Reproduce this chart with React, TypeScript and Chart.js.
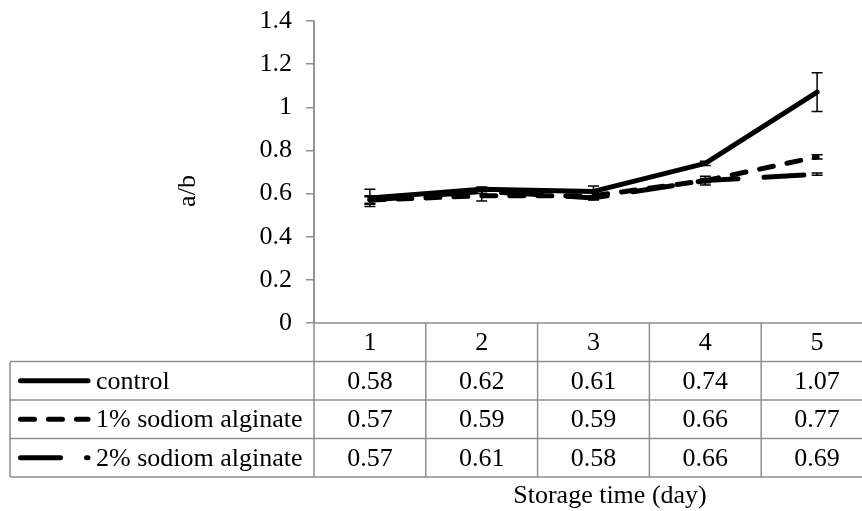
import React, { useEffect, useRef } from 'react';
import { Chart, registerables } from 'chart.js';

Chart.register(...registerables);

// ---- data ----
const days = ['1', '2', '3', '4', '5'];
const seriesNames = ['control', '1% sodiom alginate', '2% sodiom alginate'];
const controlValues = [0.58, 0.62, 0.61, 0.74, 1.07];
const alginate1Values = [0.57, 0.59, 0.59, 0.66, 0.77];
const alginate2Values = [0.57, 0.61, 0.58, 0.66, 0.69];
const controlErrors = [0.04, 0.01, 0.025, 0.01, 0.09];
const alginate1Errors = [0.02, 0.025, 0.015, 0.02, 0.01];
const alginate2Errors = [0.015, 0.01, 0.01, 0.01, 0.005];
const yTitle = 'a/b';
const xTitle = 'Storage time (day)';

const FONT = '"Liberation Serif", "Times New Roman", serif';
const FONT_SIZE = 26;
const GRID = '#8f8f8f';
const ROW_H = 38.5;
const TABLE_LEFT = 10;

const errorBarPlugin = {
  id: 'errorBars',
  afterDatasetsDraw(chart: any) {
    const { ctx } = chart;
    const ys = chart.scales.y;
    ctx.save();
    ctx.strokeStyle = '#000';
    ctx.lineWidth = 1.5;
    ctx.setLineDash([]);
    chart.data.datasets.forEach((ds: any, di: number) => {
      const meta = chart.getDatasetMeta(di);
      ds.data.forEach((v: number, i: number) => {
        const e = ds.errors[i];
        const pt = meta.data[i];
        if (!pt) return;
        const x = pt.x;
        const y1 = ys.getPixelForValue(v + e);
        const y2 = ys.getPixelForValue(v - e);
        ctx.beginPath();
        ctx.moveTo(x, y1);
        ctx.lineTo(x, y2);
        ctx.moveTo(x - 5.5, y1);
        ctx.lineTo(x + 5.5, y1);
        ctx.moveTo(x - 5.5, y2);
        ctx.lineTo(x + 5.5, y2);
        ctx.stroke();
      });
    });
    ctx.restore();
  },
};

const tablePlugin = {
  id: 'dataTable',
  afterDraw(chart: any) {
    const { ctx, chartArea } = chart;
    const xs = chart.scales.x;
    const { left, right, top, bottom } = chartArea;
    const centers = days.map((_, i) => xs.getPixelForValue(i));
    const half = (centers[1] - centers[0]) / 2;
    const rowTops = [0, 1, 2, 3].map((r) => bottom + r * ROW_H);
    const tableBottom = bottom + 4 * ROW_H;

    ctx.save();
    ctx.strokeStyle = GRID;
    ctx.lineWidth = 1.5;
    ctx.setLineDash([]);
    ctx.beginPath();
    // x axis line / header top
    ctx.moveTo(left, bottom);
    ctx.lineTo(right, bottom);
    for (let r = 1; r < 4; r++) {
      ctx.moveTo(TABLE_LEFT, rowTops[r]);
      ctx.lineTo(right, rowTops[r]);
    }
    ctx.moveTo(TABLE_LEFT, tableBottom);
    ctx.lineTo(right, tableBottom);
    // verticals
    ctx.moveTo(TABLE_LEFT, rowTops[1]);
    ctx.lineTo(TABLE_LEFT, tableBottom);
    ctx.moveTo(left, top);
    ctx.lineTo(left, tableBottom);
    centers.forEach((c) => {
      ctx.moveTo(c + half, bottom);
      ctx.lineTo(c + half, tableBottom);
    });
    ctx.stroke();

    // texts
    ctx.fillStyle = '#000';
    ctx.font = `${FONT_SIZE}px ${FONT}`;
    ctx.textAlign = 'center';
    ctx.textBaseline = 'middle';
    days.forEach((d, i) => ctx.fillText(d, centers[i], rowTops[0] + ROW_H / 2 + 1));
    chart.data.datasets.forEach((ds: any, r: number) => {
      const yc = rowTops[r + 1] + ROW_H / 2 + 1;
      ds.data.forEach((v: number, i: number) => {
        ctx.fillText(v.toFixed(2), centers[i], yc);
      });
    });

    // legend keys
    chart.data.datasets.forEach((ds: any, r: number) => {
      const yc = rowTops[r + 1] + ROW_H / 2;
      ctx.save();
      ctx.strokeStyle = ds.borderColor;
      ctx.lineWidth = ds.borderWidth;
      ctx.lineCap = 'round';
      ctx.setLineDash(ds.borderDash || []);
      ctx.beginPath();
      ctx.moveTo(TABLE_LEFT + 10.5, yc);
      ctx.lineTo(TABLE_LEFT + 78, yc);
      ctx.stroke();
      ctx.restore();
      ctx.textAlign = 'left';
      ctx.fillText(ds.label, TABLE_LEFT + 86, yc + 1);
    });

    // axis titles
    ctx.textAlign = 'center';
    ctx.fillText(xTitle, 610, tableBottom + 19);
    ctx.save();
    ctx.translate(188, (top + bottom) / 2 + 19);
    ctx.rotate(-Math.PI / 2);
    ctx.fillText(yTitle, 0, 0);
    ctx.restore();
    ctx.restore();
  },
};

export default function App() {
  const ref = useRef<HTMLCanvasElement | null>(null);

  useEffect(() => {
    if (!ref.current) return;
    const common = {
      borderColor: '#000',
      borderWidth: 5,
      pointRadius: 0,
      pointHoverRadius: 0,
      borderCapStyle: 'round' as const,
      borderJoinStyle: 'round' as const,
      tension: 0,
      fill: false,
    };
    const chart = new Chart(ref.current, {
      type: 'line',
      data: {
        labels: days,
        datasets: [
          { ...common, label: seriesNames[0], data: controlValues, errors: controlErrors, order: 2 } as any,
          { ...common, label: seriesNames[1], data: alginate1Values, errors: alginate1Errors, borderDash: [14, 14], order: 1 } as any,
          { ...common, label: seriesNames[2], data: alginate2Values, errors: alginate2Errors, borderDash: [40, 26], order: 0 } as any,
        ],
      },
      options: {
        responsive: false,
        animation: false,
        layout: { padding: { left: 0, right: 1, top: 21, bottom: 188 } },
        plugins: {
          legend: { display: false },
          tooltip: { enabled: false },
          title: { display: false },
        },
        scales: {
          x: {
            type: 'category',
            display: false,
            offset: true,
          },
          y: {
            min: 0,
            max: 1.4,
            afterFit: (s: any) => {
              s.width = 314;
              s.paddingTop = 0;
              s.paddingBottom = 0;
            },
            ticks: {
              stepSize: 0.2,
              padding: 14,
              color: '#000',
              font: { family: FONT, size: FONT_SIZE },
              callback: (v: any) => String(Number(Number(v).toFixed(1))),
            },
            grid: {
              drawOnChartArea: false,
              drawTicks: true,
              tickLength: 8,
              color: GRID,
              lineWidth: 1.5,
            },
            border: { display: true, color: GRID, width: 1.5 },
          },
        },
      },
      plugins: [errorBarPlugin, tablePlugin],
    });
    return () => chart.destroy();
  }, []);

  return (
    <div style={{ position: 'absolute', left: 0, top: 0, width: 862, height: 511, overflow: 'hidden', background: '#fff' }}>
      <canvas ref={ref} width={874} height={511} style={{ display: 'block' }} />
    </div>
  );
}
